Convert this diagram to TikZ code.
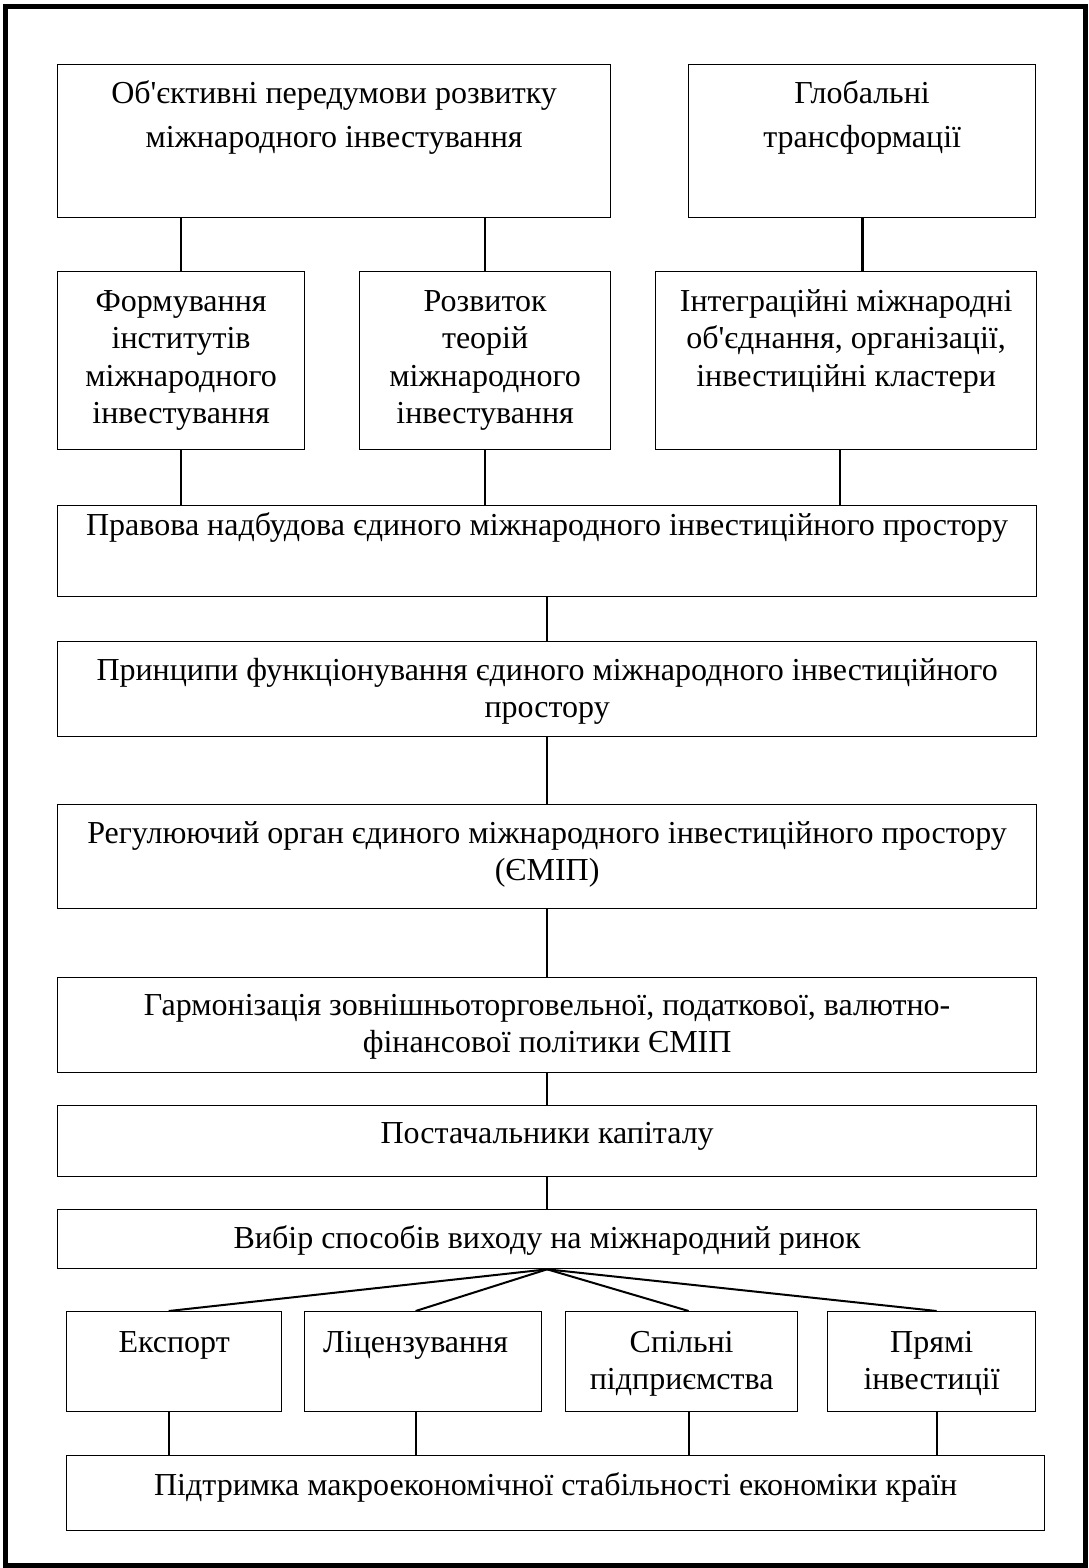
\documentclass[tikz,border=0pt]{standalone}
\usepackage{fontspec}
\setmainfont{Liberation Serif}[Ligatures=TeXOff]
\usetikzlibrary{calc}

% invisible strut that fixes the height of a first text line
\newcommand\tl{\rule{0pt}{0.9em}}

\tikzset{
  box/.style={draw=black, line width=1.3pt, rectangle, inner sep=0pt, anchor=north west},
  lbl/.style={inner sep=0pt, anchor=north, align=center, font=\fontsize{32}{37.5}\selectfont},
  lblwide/.style={lbl, font=\fontsize{32}{44}\selectfont},
  link/.style={draw=black, line width=2pt},
  frame/.style={draw=black, line width=5pt}
}

\begin{document}
\begin{tikzpicture}[x=1pt,y=-1pt]
\useasboundingbox (0,0) rectangle (1089,1568);
\draw[frame] (5.3,6.3) rectangle (1085.5,1565);

% top level
\node[box, minimum width=553pt, minimum height=153pt] (obj) at (57,64) {};
\node[box, minimum width=347pt, minimum height=153pt] (glob) at (688,64) {};
% second level
\node[box, minimum width=247pt, minimum height=178pt] (form) at (57,271) {};
\node[box, minimum width=251pt, minimum height=178pt] (rozv) at (359,271) {};
\node[box, minimum width=381pt, minimum height=178pt] (integr) at (655,271) {};
% main chain
\node[box, minimum width=979pt, minimum height=91pt] (prav) at (57,505) {};
\node[box, minimum width=979pt, minimum height=95pt] (princ) at (57,641) {};
\node[box, minimum width=979pt, minimum height=104pt] (reg) at (57,804) {};
\node[box, minimum width=979pt, minimum height=95pt] (harm) at (57,977) {};
\node[box, minimum width=979pt, minimum height=71pt] (post) at (57,1105) {};
\node[box, minimum width=979pt, minimum height=59pt] (vybir) at (57,1209) {};
% market entry modes
\node[box, minimum width=215pt, minimum height=100pt] (exp) at (66,1311) {};
\node[box, minimum width=237pt, minimum height=100pt] (lic) at (304,1311) {};
\node[box, minimum width=232pt, minimum height=100pt] (spil) at (565,1311) {};
\node[box, minimum width=208pt, minimum height=100pt] (pryami) at (827,1311) {};
\node[box, minimum width=978pt, minimum height=75pt] (pidt) at (66,1455) {};

% attachment points of the fan and of the lower links
\coordinate (expTop) at ([xshift=-5.5pt]exp.north);
\coordinate (licTop) at ([xshift=-7.5pt]lic.north);
\coordinate (spilTop) at ([xshift=7pt]spil.north);
\coordinate (prTop) at ([xshift=5pt]pryami.north);

% texts
\node[lblwide] (objT) at ($(obj.north)+(0,10.2)$) {\tl Об'єктивні передумови розвитку\\міжнародного інвестування};
\node[lblwide] (globT) at ($(glob.north)+(0,10.2)$) {\tl Глобальні\\трансформації};
\node[lbl] (formT) at ($(form.north)+(0,11.2)$) {\tl Формування\\інститутів\\міжнародного\\інвестування};
\node[lbl] (rozvT) at ($(rozv.north)+(0,11.2)$) {\tl Розвиток\\теорій\\міжнародного\\інвестування};
\node[lbl] (integrT) at ($(integr.north)+(0,11.2)$) {\tl Інтеграційні міжнародні\\об'єднання, організації,\\інвестиційні кластери};
\node[lbl] (pravT) at ($(prav.north)+(0,1.2)$) {\tl Правова надбудова єдиного міжнародного інвестиційного простору};
\node[lbl] (princT) at ($(princ.north)+(0,10.2)$) {\tl Принципи функціонування єдиного міжнародного інвестиційного\\простору};
\node[lbl] (regT) at ($(reg.north)+(0,10.2)$) {\tl Регулюючий орган єдиного міжнародного інвестиційного простору\\(ЄМІП)};
\node[lbl] (harmT) at ($(harm.north)+(0,9.2)$) {\tl Гармонізація зовнішньоторговельної, податкової, валютно-\\фінансової політики ЄМІП};
\node[lbl] (postT) at ($(post.north)+(0,9.2)$) {\tl Постачальники капіталу};
\node[lbl] (vybirT) at ($(vybir.north)+(0,10.2)$) {\tl Вибір способів виходу на міжнародний ринок};
\node[lbl] (expT) at ($(exp.north)+(0,12.2)$) {\tl Експорт};
\node[lbl] (licT) at ($(licTop)+(0,12.2)$) {\tl Ліцензування};
\node[lbl] (spilT) at ($(spil.north)+(0,12.2)$) {\tl Спільні\\підприємства};
\node[lbl] (pryamiT) at ($(pryami.north)+(0,12.2)$) {\tl Прямі\\інвестиції};
\node[lbl] (pidtT) at ($(pidt.north)+(0,11.2)$) {\tl Підтримка макроекономічної стабільності економіки країн};

% connectors: upper levels
\draw[link] (obj.south -| form.north) -- (form.north);
\draw[link] (obj.south -| rozv.north) -- (rozv.north);
\draw[link, line width=3pt] (glob.south) -- (glob.south |- integr.north);
\coordinate (intB) at ([xshift=-6.5pt]integr.south);
\draw[link] (form.south) -- (form.south |- prav.north);
\draw[link] (rozv.south) -- (rozv.south |- prav.north);
\draw[link] (intB) -- (intB |- prav.north);

% connectors: main chain
\draw[link] (prav.south) -- (princ.north);
\draw[link] (princ.south) -- (reg.north);
\draw[link] (reg.south) -- (harm.north);
\draw[link] (harm.south) -- (post.north);
\draw[link] (post.south) -- (vybir.north);

% fan to the entry modes
\draw[link] (vybir.south) -- (expTop);
\draw[link] (vybir.south) -- (licTop);
\draw[link] (vybir.south) -- (spilTop);
\draw[link] (vybir.south) -- (prTop);

% entry modes down to the final box
\draw[link] (expTop |- exp.south) -- (expTop |- pidt.north);
\draw[link] (licTop |- lic.south) -- (licTop |- pidt.north);
\draw[link] (spilTop |- spil.south) -- (spilTop |- pidt.north);
\draw[link] (prTop |- pryami.south) -- (prTop |- pidt.north);
\end{tikzpicture}
\end{document}
